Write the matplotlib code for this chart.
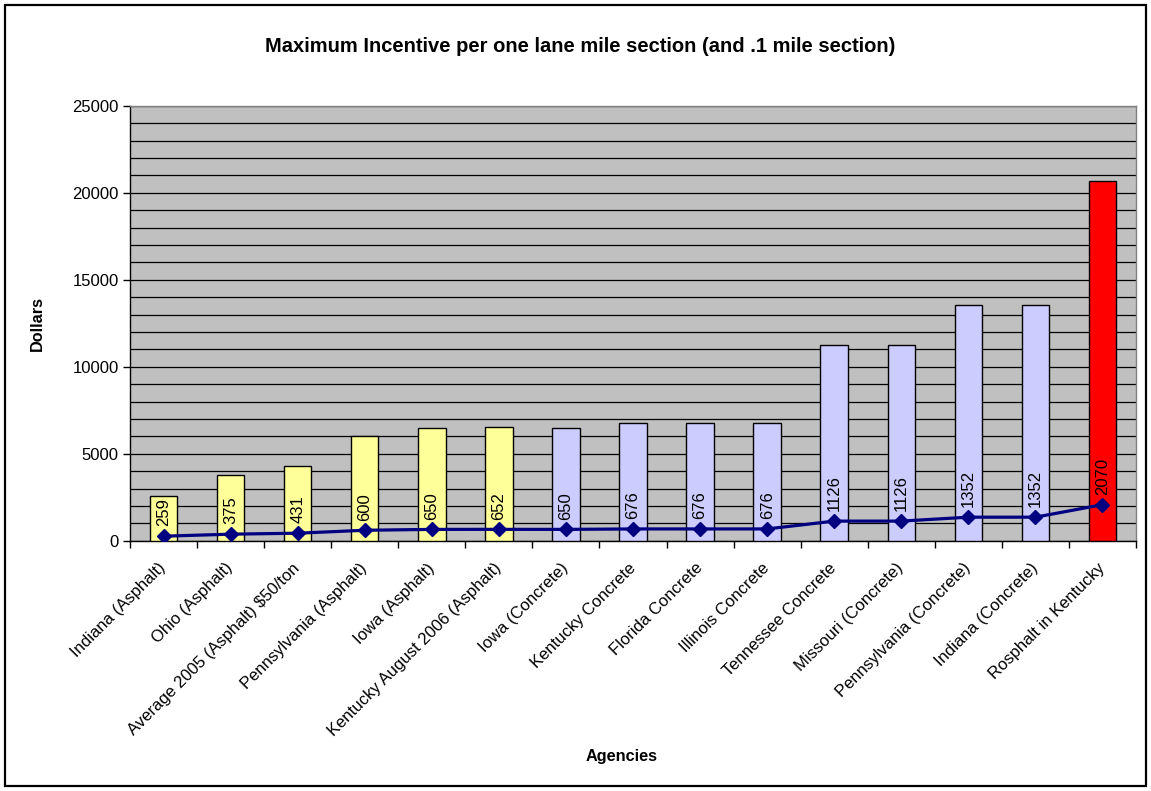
import numpy as np
import matplotlib
matplotlib.use("Agg")
import matplotlib.pyplot as plt
from matplotlib.patches import Rectangle

plt.rcParams['font.family'] = ['Liberation Sans', 'DejaVu Sans']

# Agencies and incentives (bars: per lane mile, line: per .1 mile section)
agencies = [
    'Indiana (Asphalt)', 'Ohio (Asphalt)', 'Average 2005 (Asphalt) $50/ton',
    'Pennsylvania (Asphalt)', 'Iowa (Asphalt)', 'Kentucky August 2006 (Asphalt)',
    'Iowa (Concrete)', 'Kentucky Concrete', 'Florida Concrete', 'Illinois Concrete',
    'Tennessee Concrete', 'Missouri (Concrete)', 'Pennsylvania (Concrete)',
    'Indiana (Concrete)', 'Rosphalt in Kentucky',
]
per_lane_mile = [2590, 3750, 4310, 6000, 6500, 6520, 6500, 6760, 6760, 6760,
                 11260, 11260, 13520, 13520, 20700]
per_tenth_mile = [259, 375, 431, 600, 650, 652, 650, 676, 676, 676,
                  1126, 1126, 1352, 1352, 2070]
bar_colors = ['#FFFF99'] * 6 + ['#CCCCFF'] * 8 + ['#FF0000']

fig = plt.figure(figsize=(11.51, 7.91), dpi=100)
ax = fig.add_axes([130 / 1151, 1 - 540.7 / 791, 1006 / 1151, 435 / 791])
ax.set_facecolor('#C0C0C0')

x = np.arange(len(agencies))
ax.bar(x, per_lane_mile, width=0.41, color=bar_colors, edgecolor='black',
       linewidth=1.0, zorder=3)
ax.plot(x, per_tenth_mile, color='#000080', linewidth=2.3, marker='D',
        markersize=7.5, zorder=4)

for xi, v in zip(x, per_tenth_mile):
    ax.annotate(str(v), (xi, v), xytext=(0, 7), textcoords='offset points',
                rotation=90, ha='center', va='bottom', fontsize=12, zorder=5)

ax.set_xlim(-0.5, len(agencies) - 0.5)
ax.set_ylim(0, 25000)

# gridlines every 1000, labels every 5000
ax.set_yticks(np.arange(0, 25001, 5000))
ax.set_yticks(np.arange(0, 25001, 1000), minor=True)
ax.yaxis.grid(True, which='both', color='black', linewidth=0.9, zorder=1)
ax.set_axisbelow(True)
ax.tick_params(axis='y', which='major', length=5, width=1, labelsize=12, pad=3)
ax.tick_params(axis='y', which='minor', length=0)

# category labels centred, tick marks on the boundaries
ax.set_xticks(x)
ax.set_xticklabels(agencies, rotation=45, ha='right', va='center',
                   rotation_mode='anchor', fontsize=12)
ax.set_xticks(np.arange(-0.5, len(agencies), 1), minor=True)
ax.tick_params(axis='x', which='major', length=0, pad=18)
ax.tick_params(axis='x', which='minor', length=5, width=1)

for side in ['left', 'bottom']:
    ax.spines[side].set_color('black')
    ax.spines[side].set_linewidth(1.0)
for side in ['top', 'right']:
    ax.spines[side].set_color('#808080')
    ax.spines[side].set_linewidth(1.0)

ax.set_ylabel('Dollars', fontsize=11.7, fontweight='bold', labelpad=0)
ax.yaxis.set_label_coords(-85 / 1006, 0.5)
fig.text(622 / 1151, 1 - 757 / 791, 'Agencies', ha='center', va='center',
         fontsize=11.7, fontweight='bold')
fig.text(580 / 1151, 1 - 47 / 791,
         'Maximum Incentive per one lane mile section (and .1 mile section)',
         ha='center', va='center', fontsize=14.5, fontweight='bold')

# outer chart border
fig.patches.append(Rectangle((5 / 1151, 5 / 791), 1141 / 1151, 781 / 791,
                             transform=fig.transFigure, fill=False,
                             edgecolor='black', linewidth=1.6))

fig.savefig('out.png', dpi=100)
